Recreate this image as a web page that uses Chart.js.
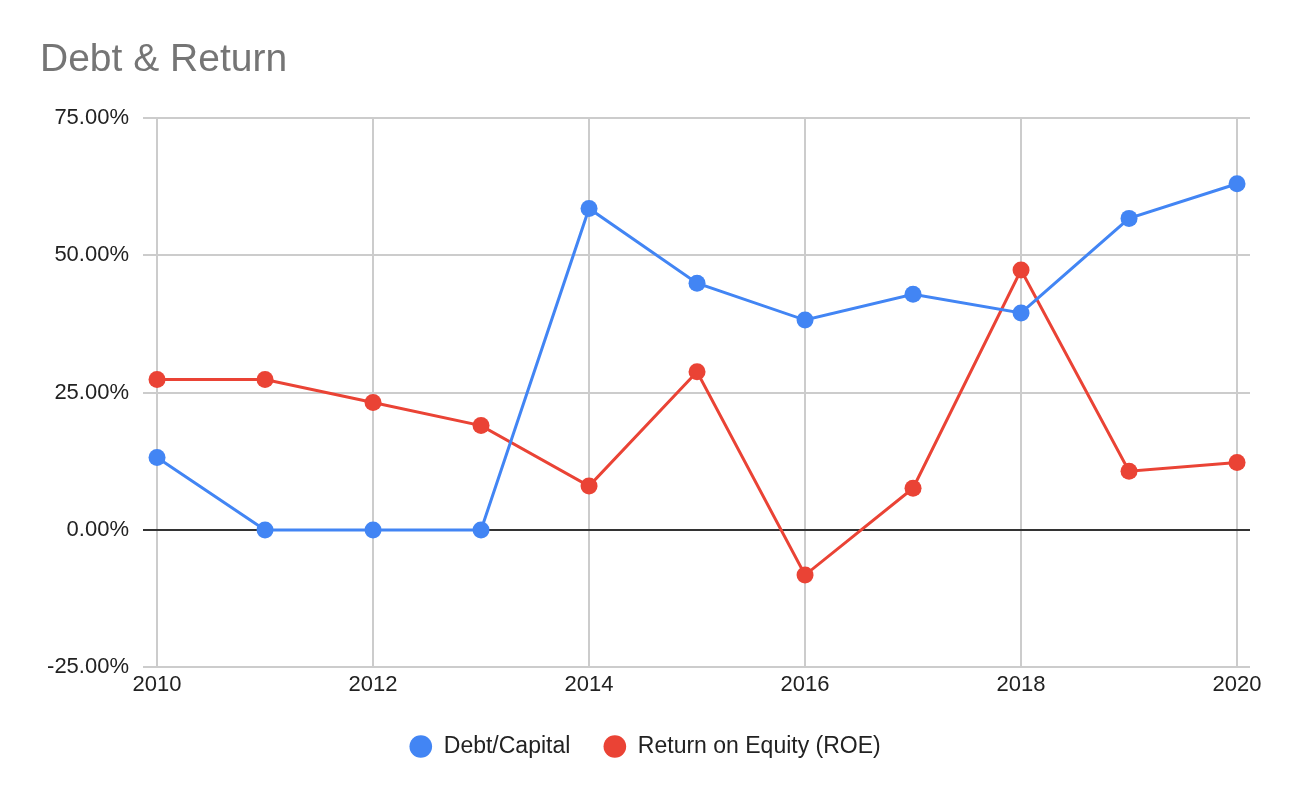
<!DOCTYPE html>
<html>
<head>
<meta charset="utf-8">
<script src="https://cdn.jsdelivr.net/npm/chart.js@4/dist/chart.umd.min.js"></script>
<style>
  html, body { margin: 0; padding: 0; background: #fff; }
  #wrap { width: 1290px; height: 798px; }
</style>
</head>
<body>
<div id="wrap"><canvas id="myChart"></canvas></div>
<script>
const years = [2010, 2011, 2012, 2013, 2014, 2015, 2016, 2017, 2018, 2019, 2020];
const debtCapital = [13.2, 0, 0, 0, 58.5, 44.9, 38.2, 42.9, 39.5, 56.7, 63.0];
const roe = [27.4, 27.4, 23.2, 19.0, 8.0, 28.8, -8.2, 7.6, 47.3, 10.7, 12.3];
const xTicks = [2010, 2012, 2014, 2016, 2018, 2020];
const yTicks = [-25, 0, 25, 50, 75];

const FONT = "'Liberation Sans', Arial, sans-serif";
const toPoints = vals => vals.map((v, i) => ({ x: years[i], y: v }));

let ctx = document.getElementById("myChart").getContext("2d");

let myChart = new Chart(ctx, {
	type: "line",
	data: {
		datasets: [{
			label: "Debt/Capital",
			data: toPoints(debtCapital),
			borderColor: "#4285F4",
			backgroundColor: "#4285F4",
			borderWidth: 3,
			pointRadius: 8.5,
			pointHoverRadius: 8.5,
			pointBorderWidth: 0
		}, {
			label: "Return on Equity (ROE)",
			data: toPoints(roe),
			borderColor: "#EA4335",
			backgroundColor: "#EA4335",
			borderWidth: 3,
			pointRadius: 8.5,
			pointHoverRadius: 8.5,
			pointBorderWidth: 0
		}]
	},
	options: {
		responsive: true,
		maintainAspectRatio: false,
		animation: false,
		layout: { padding: { left: 40, right: 40, top: 37, bottom: 30 } },
		plugins: {
			title: {
				display: true,
				text: "Debt & Return",
				align: "start",
				color: "#757575",
				font: { family: FONT, size: 39, weight: "normal" },
				padding: { top: 0, bottom: 34 }
			},
			legend: {
				position: "bottom",
				labels: {
					usePointStyle: true,
					pointStyle: "circle",
					boxWidth: 23,
					boxHeight: 16,
					padding: 33,
					color: "#222",
					font: { family: FONT, size: 23 }
				}
			},
			tooltip: { enabled: false }
		},
		scales: {
			x: {
				type: "linear",
				min: 2009.87,
				max: 2020.12,
				afterBuildTicks: axis => { axis.ticks = xTicks.map(v => ({ value: v })); },
				grid: { color: "#cccccc", lineWidth: 2, drawTicks: false },
				border: { display: false },
				ticks: {
					padding: 14,
					color: "#222",
					maxRotation: 0,
					// small lineHeight keeps the axis box thin
					font: { family: FONT, size: 22, lineHeight: 0.3 },
					callback: v => String(v)
				}
			},
			y: {
				min: -25,
				max: 75,
				afterBuildTicks: axis => { axis.ticks = yTicks.map(v => ({ value: v })); },
				afterFit: axis => { axis.width = 103; },
				grid: {
					color: c => c.tick && c.tick.value === 0 ? "#333333" : "#cccccc",
					lineWidth: 2,
					drawTicks: false
				},
				border: { display: false },
				ticks: {
					padding: 14,
					color: "#222",
					font: { family: FONT, size: 22 },
					callback: v => v.toFixed(2) + "%"
				}
			}
		}
	}
});
</script>
</body>
</html>
